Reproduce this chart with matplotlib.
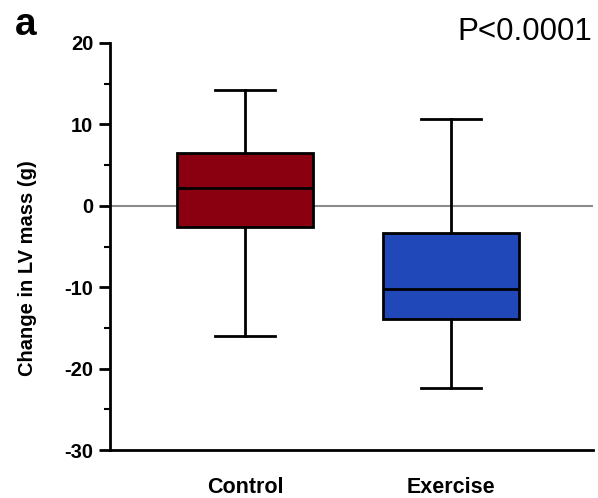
#!/usr/bin/env python3
"""box plot of change in LV mass, control vs exercise"""
import matplotlib
matplotlib.use('Agg')
import matplotlib.pyplot as plt
from matplotlib.ticker import MultipleLocator

# box statistics (g)
groups = ['Control', 'Exercise']
whisker_low = [-16.0, -22.4]
q1 = [-2.6, -13.9]
median = [2.2, -10.2]
q3 = [6.5, -3.3]
whisker_high = [14.2, 10.7]
colors = ['#8B0010', '#2148B8']

plt.rcParams['font.family'] = ['Liberation Sans', 'DejaVu Sans']
plt.rcParams['axes.unicode_minus'] = False

stats = []
for i, name in enumerate(groups):
    stats.append({'label': name, 'whislo': whisker_low[i], 'q1': q1[i],
                  'med': median[i], 'q3': q3[i], 'whishi': whisker_high[i],
                  'fliers': []})

fig = plt.figure(figsize=(5.98, 4.98), dpi=100)
ax = fig.add_axes([0.184, 0.096, 0.808, 0.818])

# zero reference line behind boxes
ax.axhline(0, color='#8c8c8c', lw=1.5, zorder=0)

bp = ax.bxp(stats, positions=[1, 2], widths=0.66, capwidths=0.29,
            patch_artist=True, showfliers=False,
            boxprops=dict(edgecolor='black', linewidth=2),
            whiskerprops=dict(color='black', linewidth=2),
            capprops=dict(color='black', linewidth=2),
            medianprops=dict(color='black', linewidth=2))
for patch, c in zip(bp['boxes'], colors):
    patch.set_facecolor(c)

ax.set_xlim(0.345, 2.69)
ax.set_ylim(-30, 20)
ax.yaxis.set_major_locator(MultipleLocator(10))
ax.yaxis.set_minor_locator(MultipleLocator(5))
ax.tick_params(axis='y', which='major', length=8, width=2, labelsize=14.5, pad=4)
ax.tick_params(axis='y', which='minor', length=4, width=1.5)
ax.tick_params(axis='x', length=0, labelsize=15.5, pad=19)
for lbl in ax.get_xticklabels() + ax.get_yticklabels():
    lbl.set_fontweight('bold')

ax.spines['top'].set_visible(False)
ax.spines['right'].set_visible(False)
ax.spines['left'].set_linewidth(2)
ax.spines['bottom'].set_linewidth(2)

ax.set_ylabel('Change in LV mass (g)', fontsize=14.5, fontweight='bold')
ax.yaxis.set_label_coords(-0.151, 0.447)

fig.text(0.025, 0.93, 'a', fontsize=28, fontweight='bold')
fig.text(0.99, 0.92, 'P<0.0001', fontsize=22.5, ha='right')

fig.savefig('out.png', dpi=100)
